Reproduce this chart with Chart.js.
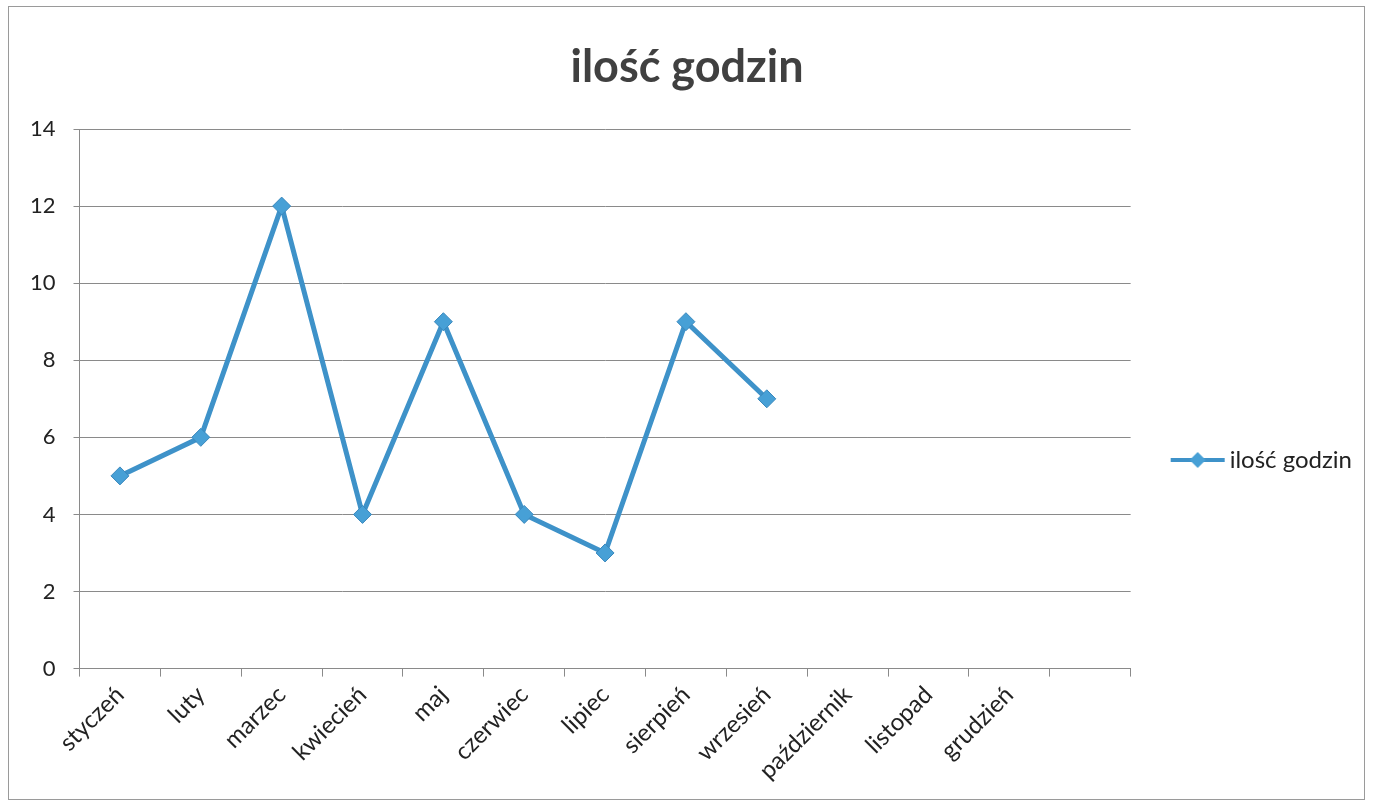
<!DOCTYPE html>
<html>
<head>
<meta charset="utf-8">
<script src="https://cdn.jsdelivr.net/npm/chart.js@4.4.1/dist/chart.umd.min.js"></script>
<style>
  body { margin: 0; background: #fff; }
  #box {
    position: absolute;
    left: 8px; top: 6px;
    width: 1357px; height: 794px;
    border: 1px solid #9a9a9a;
    box-sizing: border-box;
  }
</style>
</head>
<body>
<div id="box"><canvas id="hoursChart"></canvas></div>
<script>
const months = ['styczeń', 'luty', 'marzec', 'kwiecień', 'maj', 'czerwiec', 'lipiec',
  'sierpień', 'wrzesień', 'październik', 'listopad', 'grudzień', ''];
const hours = [5, 6, 12, 4, 9, 4, 3, 9, 7, null, null, null, null];
const seriesName = 'ilość godzin';
const yTicks = [0, 2, 4, 6, 8, 10, 12, 14];

const lineColor = '#3e92c9';
const markColor = '#47a0d6';
const fontName = 'Lato';

// legend symbol: short line with a diamond in the middle
const legendMark = document.createElement('canvas');
legendMark.width = 56;
legendMark.height = 20;
const lctx = legendMark.getContext('2d');
lctx.strokeStyle = lineColor;
lctx.lineWidth = 4;
lctx.beginPath();
lctx.moveTo(1, 10);
lctx.lineTo(55, 10);
lctx.stroke();
lctx.fillStyle = markColor;
lctx.beginPath();
lctx.moveTo(28, 2);
lctx.lineTo(36, 10);
lctx.lineTo(28, 18);
lctx.lineTo(20, 10);
lctx.closePath();
lctx.fill();

const ctx = document.getElementById('hoursChart').getContext('2d');
const hoursChart = new Chart(ctx, {
  type: 'line',
  data: {
    labels: months,
    datasets: [{
      label: seriesName,
      data: hours,
      borderColor: lineColor,
      backgroundColor: markColor,
      borderWidth: 5,
      pointStyle: 'rectRot',
      pointRadius: 9,
      pointBorderWidth: 1,
      pointBorderColor: '#3a88bd',
      spanGaps: false,
      tension: 0
    }]
  },
  options: {
    responsive: true,
    maintainAspectRatio: false,
    animation: false,
    layout: {
      padding: { left: 3, right: 2, top: 0, bottom: 10 }
    },
    plugins: {
      title: {
        display: true,
        text: seriesName,
        color: '#404040',
        font: { family: fontName, size: 45, weight: 'bold' },
        padding: { top: 33, bottom: 35 }
      },
      legend: {
        position: 'right',
        // empty legend title only pushes the entry down below the chart title
        title: {
          display: true,
          text: '',
          font: { size: 10, lineHeight: 1 },
          padding: { top: 0, bottom: 114 }
        },
        labels: {
          usePointStyle: true,
          pointStyleWidth: 40,
          padding: 47,
          color: '#222',
          font: { family: fontName, size: 24 },
          generateLabels: function(chart) {
            const items = Chart.defaults.plugins.legend.labels.generateLabels(chart);
            items.forEach(item => { item.pointStyle = legendMark; });
            return items;
          }
        }
      },
      tooltip: { enabled: false }
    },
    scales: {
      x: {
        offset: true,
        grid: {
          offset: true,
          drawOnChartArea: false,
          drawTicks: true,
          tickLength: 8,
          color: '#8a8a8a'
        },
        border: { color: '#8a8a8a' },
        ticks: {
          autoSkip: false,
          maxRotation: 45,
          minRotation: 45,
          padding: 4,
          color: '#222',
          font: { family: fontName, size: 24 }
        }
      },
      y: {
        min: 0,
        max: 14,
        afterBuildTicks: function(axis) {
          axis.ticks = yTicks.map(v => ({ value: v }));
        },
        grid: {
          color: '#8a8a8a',
          lineWidth: 1,
          tickLength: 6
        },
        border: { color: '#8a8a8a' },
        ticks: {
          padding: 18,
          color: '#222',
          font: { family: fontName, size: 22 }
        }
      }
    }
  }
});
</script>
</body>
</html>
